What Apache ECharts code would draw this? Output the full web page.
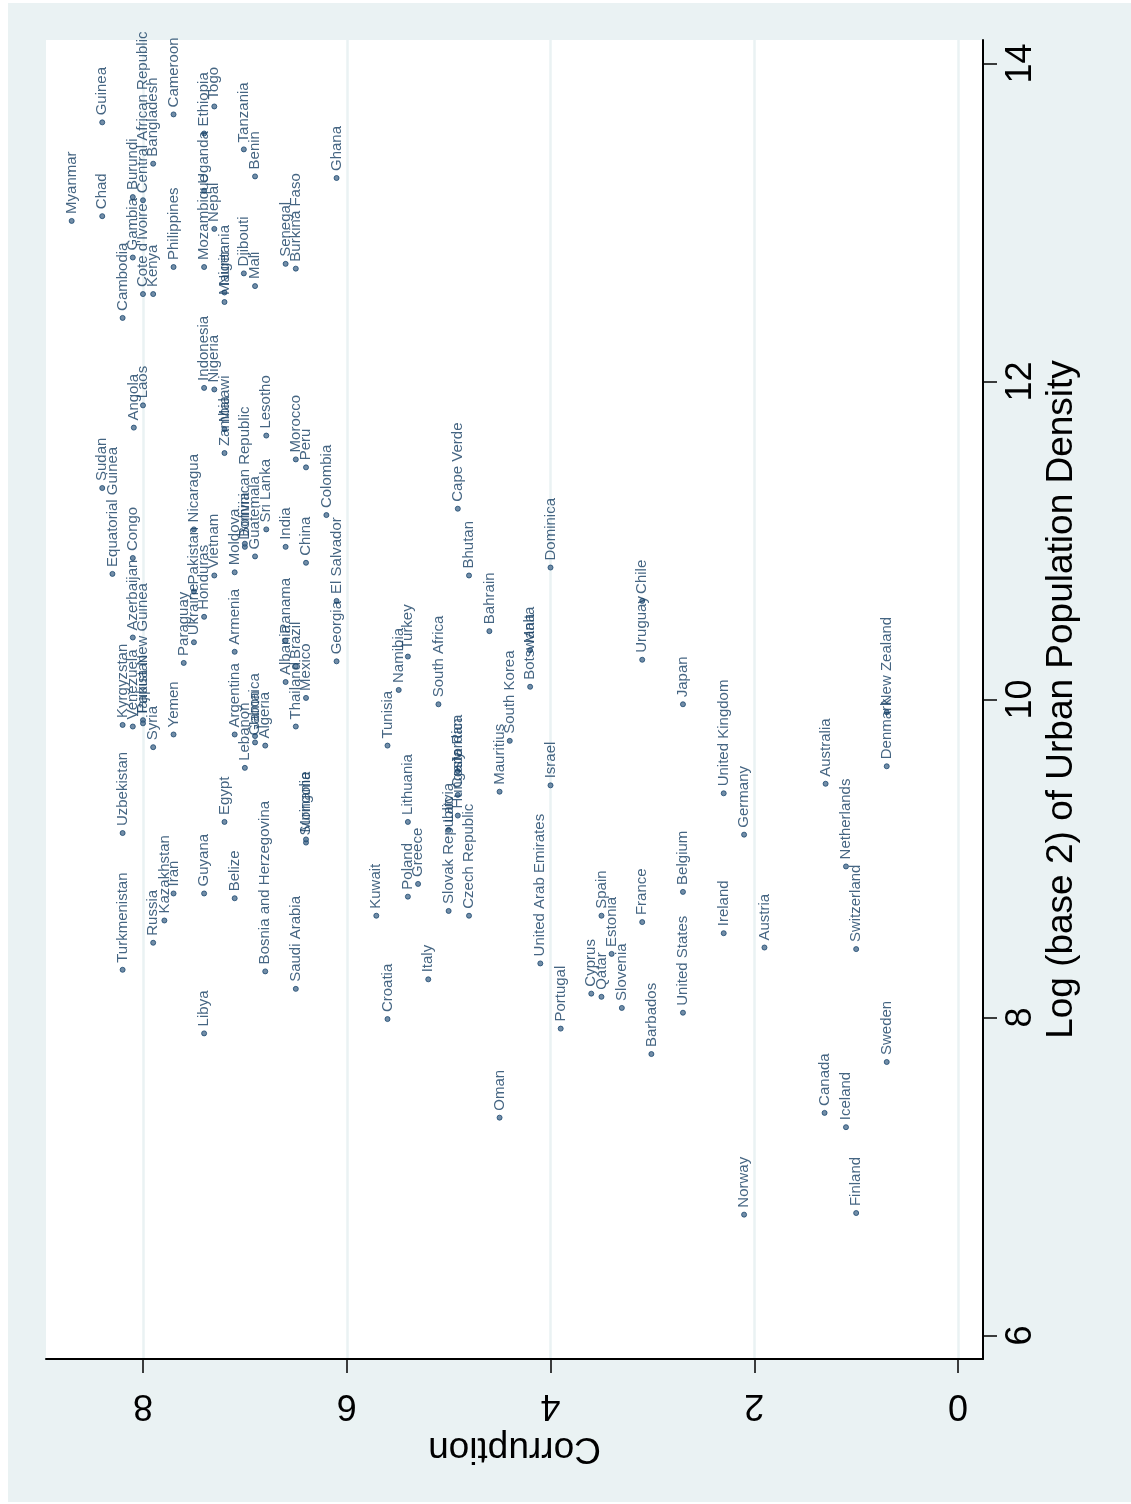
<!DOCTYPE html>
<html>
<head>
<meta charset="utf-8">
<title>Corruption vs urban population density</title>
<script src="https://cdn.jsdelivr.net/npm/echarts@6/dist/echarts.min.js"></script>
<style>
  html, body { margin: 0; padding: 0; background: #ffffff; }
  #chart { position: absolute; left: 8px; top: 3px; width: 1123px; height: 1499px; }
</style>
</head>
<body>
<div id="chart"></div>
<script>
// country names, corruption score, log2 urban density
const countries = [
  'Myanmar', 'Guinea', 'Chad', 'Cambodia', 'Gambia', 'Burundi', "Cote d'Ivoire", 'Central African Republic',
  'Kenya', 'Bangladesh', 'Cameroon', 'Philippines', 'Mozambique', 'Uganda', 'Ethiopia', 'Togo',
  'Nepal', 'Mauritania', 'Niger', 'Djibouti', 'Mali', 'Tanzania', 'Benin', 'Senegal',
  'Burkina Faso', 'Ghana', 'Indonesia', 'Nigeria', 'Angola', 'Laos', 'Malawi', 'Zambia',
  'Morocco', 'Peru', 'Sudan', 'Equatorial Guinea', 'Congo', 'Azerbaijan', 'Kyrgyzstan', 'Venezuela',
  'Papua New Guinea', 'Tajikistan', 'Syria', 'Yemen', 'Paraguay', 'Ukraine', 'Pakistan', 'Nicaragua',
  'Honduras', 'Vietnam', 'Moldova', 'Armenia', 'Argentina', 'Lebanon', 'Jamaica', 'Gabon',
  'Algeria', 'Egypt', 'Bosnia and Herzegovina', 'Uzbekistan', 'Turkmenistan', 'Russia', 'Kazakhstan', 'Iran',
  'Guyana', 'Belize', 'Libya', 'Saudi Arabia', 'Albania', 'Panama', 'Thailand', 'Brazil',
  'Mexico', 'India', 'China', 'Georgia', 'El Salvador', 'Colombia', 'Guatemala', 'Sri Lanka',
  'Dominican Republic', 'Bolivia', 'Lesotho', 'Suriname', 'Mongolia', 'Cape Verde', 'Bhutan', 'Dominica',
  'Bahrain', 'Turkey', 'Namibia', 'Tunisia', 'South Africa', 'Lithuania', 'Poland', 'Greece',
  'Kuwait', 'Slovak Republic', 'Latvia', 'Hungary', 'Costa Rica', 'Jordan', 'Czech Republic', 'Mauritius',
  'South Korea', 'Botswana', 'Malta', 'Israel', 'Uruguay', 'Chile', 'United Arab Emirates', 'Spain',
  'Estonia', 'Cyprus', 'Qatar', 'Slovenia', 'Portugal', 'Croatia', 'Italy', 'Oman',
  'Barbados', 'France', 'Japan', 'Belgium', 'United Kingdom', 'Germany', 'Australia', 'Netherlands',
  'Denmark', 'New Zealand', 'United States', 'Ireland', 'Austria', 'Switzerland', 'Sweden', 'Canada',
  'Iceland', 'Norway', 'Finland'
];

const corruption = [
  8.70, 8.40, 8.40, 8.20, 8.10, 8.10, 8.00, 8.00,
  7.90, 7.90, 7.70, 7.70, 7.40, 7.40, 7.40, 7.30,
  7.30, 7.20, 7.20, 7.01, 6.90, 7.01, 6.90, 6.60,
  6.50, 6.10, 7.40, 7.30, 8.09, 8.00, 7.20, 7.20,
  6.50, 6.40, 8.40, 8.30, 8.10, 8.10, 8.20, 8.10,
  8.00, 8.00, 7.90, 7.70, 7.60, 7.50, 7.50, 7.50,
  7.40, 7.30, 7.10, 7.10, 7.10, 7.00, 6.90, 6.90,
  6.80, 7.20, 6.80, 8.20, 8.20, 7.90, 7.79, 7.70,
  7.40, 7.10, 7.40, 6.50, 6.60, 6.60, 6.50, 6.50,
  6.40, 6.60, 6.40, 6.10, 6.10, 6.20, 6.90, 6.79,
  7.00, 7.00, 6.79, 6.40, 6.40, 4.91, 4.80, 4.00,
  4.60, 5.40, 5.49, 5.60, 5.10, 5.40, 5.40, 5.30,
  5.71, 5.00, 5.00, 4.91, 4.91, 4.91, 4.80, 4.50,
  4.40, 4.20, 4.20, 4.00, 3.10, 3.10, 4.10, 3.50,
  3.40, 3.60, 3.50, 3.30, 3.90, 5.60, 5.20, 4.50,
  3.01, 3.10, 2.70, 2.70, 2.30, 2.10, 1.30, 1.10,
  0.70, 0.70, 2.70, 2.30, 1.90, 1.00, 0.70, 1.31,
  1.10, 2.10, 1.00
];

const density = [
  13.01, 13.63, 13.04, 12.40, 12.78, 13.16, 12.55, 13.14,
  12.55, 13.37, 13.68, 12.72, 12.72, 13.20, 13.56, 13.73,
  12.96, 12.50, 12.56, 12.68, 12.60, 13.46, 13.29, 12.74,
  12.71, 13.28, 11.96, 11.95, 11.71, 11.85, 11.70, 11.55,
  11.51, 11.46, 11.33, 10.79, 10.89, 10.39, 9.84, 9.83,
  9.87, 9.85, 9.70, 9.78, 10.23, 10.36, 10.68, 11.07,
  10.52, 10.78, 10.80, 10.30, 9.78, 9.57, 9.77, 9.73,
  9.71, 9.23, 8.29, 9.16, 8.30, 8.47, 8.61, 8.78,
  8.78, 8.75, 7.90, 8.18, 10.11, 10.37, 9.83, 10.21,
  10.01, 10.96, 10.86, 10.24, 10.62, 11.16, 10.90, 11.07,
  10.96, 10.98, 11.66, 9.10, 9.12, 11.20, 10.78, 10.83,
  10.43, 10.27, 10.06, 9.71, 9.97, 9.23, 8.76, 8.84,
  8.64, 8.67, 9.18, 9.27, 9.40, 9.55, 8.64, 9.42,
  9.74, 10.08, 10.31, 9.46, 10.25, 10.62, 8.34, 8.64,
  8.40, 8.15, 8.13, 8.06, 7.93, 7.99, 8.24, 7.37,
  7.77, 8.60, 9.97, 8.79, 9.41, 9.15, 9.47, 8.95,
  9.58, 9.92, 8.03, 8.53, 8.44, 8.43, 7.72, 7.40,
  7.31, 6.76, 6.77
];

const corruptionTicks = [0, 2, 4, 6, 8];
const densityTicks = [6, 8, 10, 12, 14];

const points = countries.map((name, i) => [corruption[i], density[i], name]);

const navy = '#1a476f';
const font = 'Liberation Sans, Arial, sans-serif';

const chart = echarts.init(document.getElementById('chart'));
chart.setOption({
  backgroundColor: '#eaf2f3',
  animation: false,
  grid: {
    left: 38,
    right: 148,
    top: 37,
    bottom: 143,
    show: true,
    backgroundColor: '#ffffff',
    borderWidth: 0,
    containLabel: false,
    outerBoundsMode: 'none'
  },
  // corruption runs right to left along the bottom
  xAxis: {
    type: 'value',
    inverse: true,
    min: -0.245,
    max: 8.952,
    name: 'Corruption',
    nameLocation: 'middle',
    nameRotate: 180,
    nameGap: 71,
    nameMoveOverlap: false,
    nameTextStyle: { color: '#000', fontSize: 37, fontFamily: font },
    axisLine: { show: true, onZero: false, lineStyle: { color: '#000', width: 2 } },
    axisTick: { show: true, length: 14, customValues: corruptionTicks, lineStyle: { color: '#000', width: 1.5 } },
    axisLabel: {
      customValues: corruptionTicks,
      rotate: 180,
      margin: 28,
      color: '#000',
      fontSize: 36,
      fontFamily: font
    },
    splitLine: { show: true, lineStyle: { color: '#eaf2f3', width: 2.5 } }
  },
  // density runs bottom to top on the right
  yAxis: {
    type: 'value',
    position: 'right',
    min: 5.852,
    max: 14.148,
    name: 'Log (base 2) of Urban Population Density',
    nameLocation: 'middle',
    nameRotate: 90,
    nameGap: 60,
    nameMoveOverlap: false,
    nameTextStyle: { color: '#000', fontSize: 37, fontFamily: font },
    axisLine: { show: true, onZero: false, lineStyle: { color: '#000', width: 2 } },
    axisTick: { show: true, length: 14, customValues: densityTicks, lineStyle: { color: '#000', width: 1.5 } },
    axisLabel: {
      customValues: densityTicks,
      rotate: 90,
      margin: 20,
      color: '#000',
      fontSize: 36,
      fontFamily: font
    },
    splitLine: { show: false }
  },
  series: [
    {
      type: 'scatter',
      data: points,
      symbol: 'circle',
      symbolSize: 5,
      itemStyle: { color: '#4f7191', borderColor: navy, borderWidth: 1 },
      label: {
        show: true,
        position: 'top',
        distance: 4,
        rotate: 90,
        align: 'left',
        verticalAlign: 'middle',
        formatter: p => p.data[2],
        color: '#173f63',
        fontSize: 15,
        fontFamily: font
      },
      labelLayout: { hideOverlap: false }
    }
  ]
});
</script>
</body>
</html>
